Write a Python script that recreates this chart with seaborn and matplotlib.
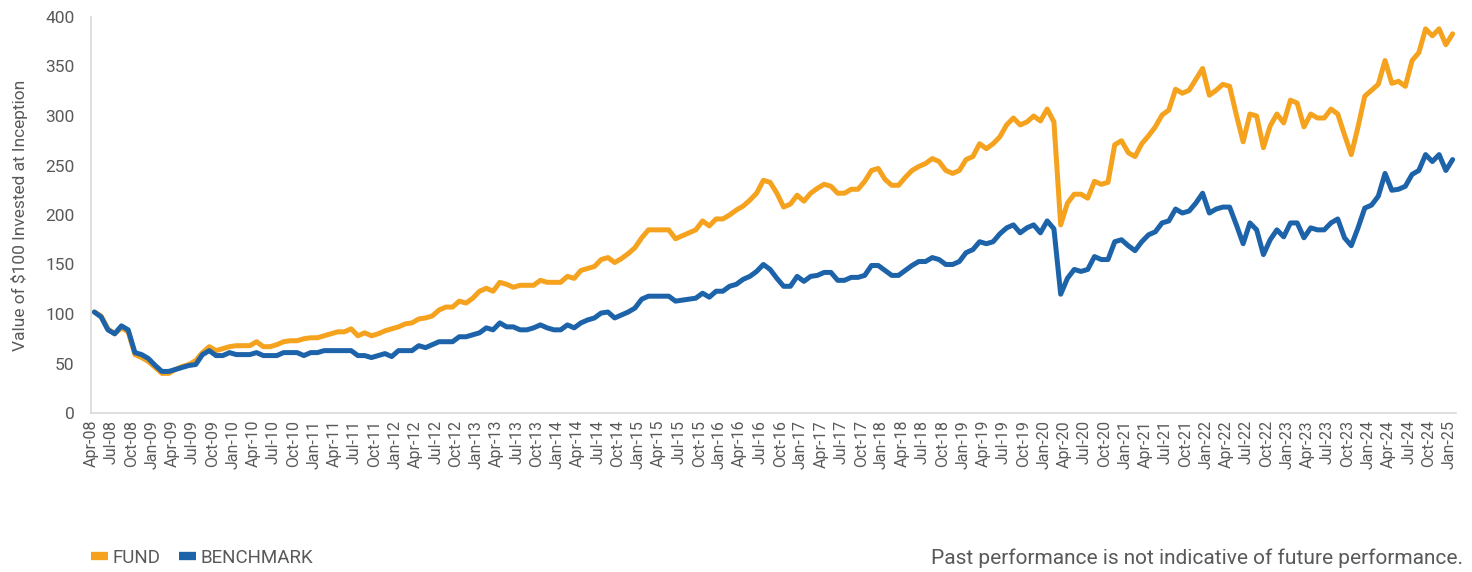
import numpy as np
import pandas as pd
import matplotlib
matplotlib.use("Agg")
import matplotlib.pyplot as plt
from matplotlib.lines import Line2D
import seaborn as sns

# monthly values, Apr-08 .. Jan-25
fund = [102, 98, 85, 80, 86, 82, 59, 56, 52, 46, 40, 40, 44, 47, 49, 53, 61, 67, 63, 65,
        67, 68, 68, 68, 72, 67, 67, 69, 72, 73, 73, 75, 76, 76, 78, 80, 82, 82, 85, 78,
        81, 78, 80, 83, 85, 87, 90, 91, 95, 96, 98, 104, 107, 107, 113, 111, 116, 123, 126, 123,
        132, 130, 127, 129, 129, 129, 134, 132, 132, 132, 138, 136, 144, 146, 148, 155, 157, 152, 156, 161,
        167, 177, 185, 185, 185, 185, 176, 179, 182, 185, 194, 189, 196, 196, 200, 205, 209, 215, 222, 235,
        233, 222, 208, 211, 220, 214, 222, 227, 231, 229, 222, 222, 226, 226, 234, 245, 247, 236, 230, 230,
        238, 245, 249, 252, 257, 254, 245, 242, 245, 256, 259, 272, 267, 272, 279, 291, 298, 291, 294, 300,
        295, 307, 294, 190, 212, 221, 221, 217, 234, 231, 233, 271, 275, 263, 259, 272, 280, 289, 301, 306,
        327, 323, 326, 337, 348, 321, 326, 332, 330, 301, 274, 302, 300, 268, 290, 302, 293, 316, 313, 289,
        302, 298, 298, 307, 302, 281, 261, 289, 320, 326, 332, 356, 333, 335, 330, 356, 364, 388, 381, 388,
        372, 383]

benchmark = [102, 97, 84, 80, 88, 84, 61, 59, 55, 48, 42, 42, 44, 46, 48, 49, 59, 63, 58, 58,
             61, 59, 59, 59, 61, 58, 58, 58, 61, 61, 61, 58, 61, 61, 63, 63, 63, 63, 63, 58,
             58, 56, 58, 60, 57, 63, 63, 63, 68, 66, 69, 72, 72, 72, 77, 77, 79, 81, 86, 84,
             91, 87, 87, 84, 84, 86, 89, 86, 84, 84, 89, 86, 91, 94, 96, 101, 102, 96, 99, 102,
             106, 115, 118, 118, 118, 118, 113, 114, 115, 116, 121, 117, 123, 123, 128, 130, 135, 138, 143, 150,
             145, 136, 128, 128, 138, 133, 138, 139, 142, 142, 134, 134, 137, 137, 139, 149, 149, 144, 139, 139,
             144, 149, 153, 153, 157, 155, 150, 150, 153, 162, 165, 173, 171, 173, 181, 187, 190, 182, 187, 190,
             182, 194, 186, 120, 136, 145, 143, 145, 158, 155, 155, 173, 175, 169, 164, 173, 180, 183, 192, 194,
             206, 202, 204, 212, 222, 202, 206, 208, 208, 190, 171, 192, 185, 160, 175, 185, 178, 192, 192, 177,
             187, 185, 185, 192, 196, 177, 169, 187, 207, 210, 219, 242, 225, 226, 229, 241, 245, 261, 254, 261,
             245, 256]

months = pd.date_range("2008-04-01", periods=len(fund), freq="MS")
tick_labels = [d.strftime("%b-%y") for d in months[::3]]

series_names = ["FUND", "BENCHMARK"]
colors = {"FUND": "#F5A21E", "BENCHMARK": "#1C63A9"}
text_gray = "#595959"

df = pd.DataFrame({
    "pos": np.arange(len(fund)) + 0.5,
    "FUND": fund,
    "BENCHMARK": benchmark,
})
long = df.melt(id_vars="pos", var_name="series", value_name="value")

sns.set_style("white")
plt.rcParams["font.family"] = ["Roboto", "DejaVu Sans"]

fig = plt.figure(figsize=(14.72, 5.72), dpi=100)
ax = fig.add_axes([91 / 1472, 1 - 413 / 572, (1456 - 91) / 1472, (413 - 17) / 572])

sns.lineplot(data=long, x="pos", y="value", hue="series", hue_order=series_names,
             palette=colors, linewidth=3.6, legend=False, ax=ax,
             solid_joinstyle="round", solid_capstyle="round")

ax.set_xlim(0, len(fund))
ax.set_ylim(0, 400)
ax.set_yticks(range(0, 401, 50))
ax.set_xticks(np.arange(0, len(fund), 3))
ax.set_xticklabels(tick_labels, rotation=90)
ax.set_xlabel("")
ax.set_ylabel("Value of $100 Invested at Inception", fontsize=12.5, color=text_gray, labelpad=12)

for s in ["top", "right"]:
    ax.spines[s].set_visible(False)
for s in ["left", "bottom"]:
    ax.spines[s].set_color("#d9d9d9")
    ax.spines[s].set_linewidth(1.2)

ax.tick_params(axis="x", direction="in", length=4, color="#d9d9d9", labelsize=11.5,
               labelcolor=text_gray, pad=5)
ax.tick_params(axis="y", direction="in", length=4, color="#d9d9d9", labelsize=12.5,
               labelcolor=text_gray, pad=12)
ax.grid(False)

handles = [Line2D([0], [0], color=colors[n], lw=6, solid_capstyle="butt") for n in series_names]
leg = fig.legend(handles, series_names, loc="center left", bbox_to_anchor=(91 / 1472, 1 - 558 / 572),
                 ncol=2, frameon=False, fontsize=13.5, handlelength=0.9, handletextpad=0.25,
                 columnspacing=1.0, borderpad=0, borderaxespad=0)
for t in leg.get_texts():
    t.set_color(text_gray)

fig.text(1463 / 1472, 1 - 558 / 572, "Past performance is not indicative of future performance.",
         ha="right", va="center", fontsize=15, color=text_gray)

fig.savefig("out.png", dpi=100)
